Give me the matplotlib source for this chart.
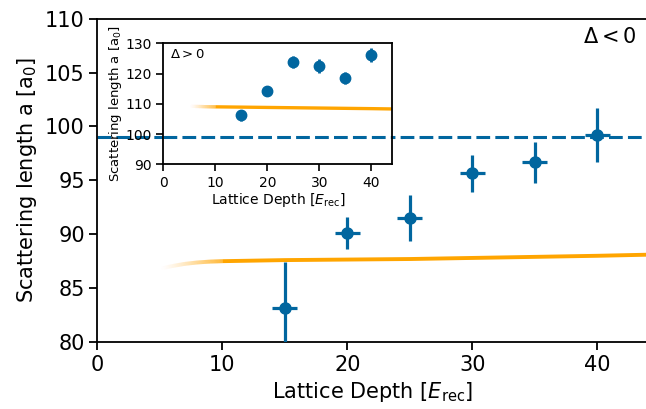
import numpy as np
import matplotlib
matplotlib.use("Agg")
import matplotlib.pyplot as plt
from matplotlib.collections import LineCollection

# measured data, Delta < 0 (main panel)
depth = [15, 20, 25, 30, 35, 40]
a_neg = [83.2, 90.1, 91.5, 95.65, 96.7, 99.2]
a_neg_err = [4.2, 1.5, 2.1, 1.7, 1.9, 2.5]
depth_err = [1, 1, 1, 1, 1, 1]

# measured data, Delta > 0 (inset)
a_pos = [106.2, 114.2, 123.9, 122.5, 118.4, 126.1]
a_pos_err = [1.8, 1.2, 2.0, 2.2, 2.0, 2.2]

# theory curves
th_x = [5, 6, 7, 8, 9, 10, 15, 20, 25, 30, 35, 40, 44]
th_neg = [86.8, 87.05, 87.25, 87.38, 87.46, 87.5, 87.6, 87.65, 87.7, 87.8, 87.9, 88.0, 88.1]
th_pos = [109.2, 109.15, 109.1, 109.05, 109.02, 109.0, 108.9, 108.8, 108.7, 108.6, 108.5, 108.4, 108.3]

a_bg = 99.0  # dashed reference line

blue = "#01669f"
orange = "#ffa500"


def faded_line(ax, x, y, x_fade, lw):
    # solid part from x_fade on, alpha ramp before it
    x = np.asarray(x, float)
    y = np.asarray(y, float)
    solid = x >= x_fade
    ax.plot(x[solid], y[solid], color=orange, lw=lw, solid_capstyle="butt", zorder=2)
    segs, alphas = [], []
    for i in range(len(x) - 1):
        if x[i] >= x_fade:
            break
        t = np.linspace(0, 1, 21)
        xs = x[i] + t * (x[i + 1] - x[i])
        ys = y[i] + t * (y[i + 1] - y[i])
        for j in range(20):
            segs.append([(xs[j], ys[j]), (xs[j + 1], ys[j + 1])])
            xm = 0.5 * (xs[j] + xs[j + 1])
            alphas.append((xm - x[0]) / (x_fade - x[0]))
    cols = [(1.0, 0.647, 0.0, min(max(a, 0), 1) ** 1.5) for a in alphas]
    ax.add_collection(LineCollection(segs, colors=cols, linewidths=lw, capstyle="butt", zorder=2))


fig = plt.figure(figsize=(6.46, 4.09), dpi=100)
ax = fig.add_axes([0.1506, 0.1638, 0.8514, 0.7905])

faded_line(ax, th_x, th_neg, 10, 2.8)
ax.axhline(a_bg, color=blue, lw=2.2, ls=(0, (4.5, 1.7)), zorder=1)
ax.errorbar(depth, a_neg, yerr=a_neg_err, xerr=depth_err, fmt="o", color=blue,
            ms=8, elinewidth=2.3, capsize=0, zorder=3)

ax.set_xlim(0, 44)
ax.set_ylim(80, 110)
ax.set_xticks([0, 10, 20, 30, 40])
ax.set_yticks([80, 85, 90, 95, 100, 105, 110])
ax.spines["right"].set_visible(False)
for s in ax.spines.values():
    s.set_linewidth(1.3)
ax.tick_params(labelsize=15, width=1.3, length=5.5)
ax.set_xlabel("Lattice Depth [$E_\\mathrm{rec}$]", fontsize=15)
ax.set_ylabel("Scattering length a [a$_0$]", fontsize=15)
ax.text(0.98, 0.975, "$\\Delta < 0$", transform=ax.transAxes, ha="right", va="top",
        fontsize=15)

# inset
ins = fig.add_axes([0.2528, 0.5983, 0.3545, 0.2958])
faded_line(ins, th_x, th_pos, 10, 2.4)
ins.axhline(a_bg, color=blue, lw=2.2, ls=(0, (4.5, 1.7)), zorder=1)
ins.errorbar(depth, a_pos, yerr=a_pos_err, fmt="o", color=blue,
             ms=7.5, elinewidth=2.0, capsize=0, zorder=3)
ins.set_xlim(0, 44)
ins.set_ylim(90, 130)
ins.set_xticks([0, 10, 20, 30, 40])
ins.set_yticks([90, 100, 110, 120, 130])
for s in ins.spines.values():
    s.set_linewidth(1.3)
ins.tick_params(labelsize=10, width=1.2, length=5)
ins.set_xlabel("Lattice Depth [$E_\\mathrm{rec}$]", fontsize=10, labelpad=1)
ins.set_ylabel("Scattering length a [a$_0$]", fontsize=9.5, labelpad=1)
ins.text(0.03, 0.96, "$\\Delta > 0$", transform=ins.transAxes, ha="left", va="top",
         fontsize=9.5)

fig.savefig("out.png", dpi=100)
